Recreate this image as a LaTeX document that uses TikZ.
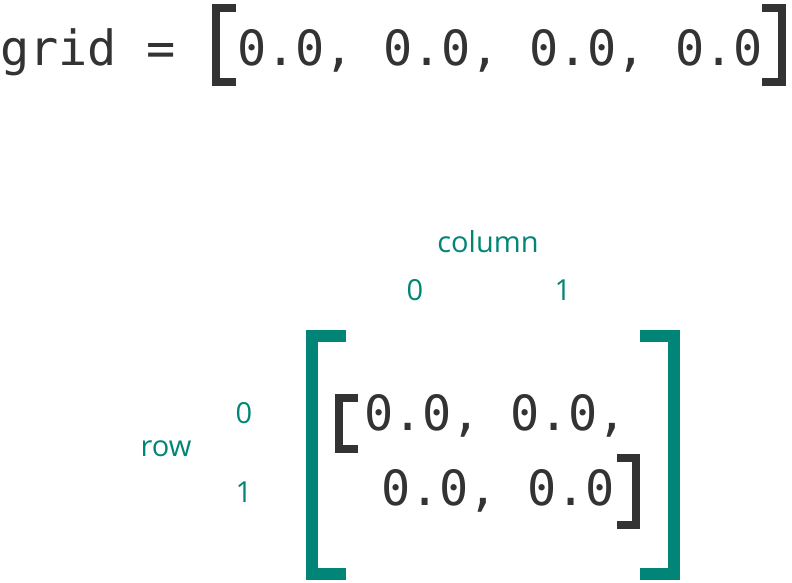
\documentclass[tikz,border=0pt]{standalone}
\usepackage{fontspec}
\setmainfont{Open Sans}
\newfontfamily\codefont{DejaVu Sans Mono}
\definecolor{teal1}{RGB}{0,133,119}
\definecolor{dark}{RGB}{51,51,51}
\begin{document}
\begin{tikzpicture}[x=1pt,y=-1pt,
  code/.style={font=\codefont\fontsize{48.5}{50}\selectfont,text=dark,anchor=base west,inner sep=0pt},
  lab/.style={font=\fontsize{29}{32}\selectfont,text=teal1,inner sep=0pt},
  dbr/.style={draw=dark,line width=8pt},
  tbr/.style={draw=teal1,line width=12pt}]
\useasboundingbox (0,0) rectangle (792,582);
\node[code] (g) at (0,65) {grid =};
\node[code] (v) at (237,65) {0.0, 0.0, 0.0, 0.0};
\draw[dbr] (236,8) -- (216,8) -- (216,82) -- (236,82);
\draw[dbr] (762,8) -- (782,8) -- (782,82) -- (762,82);
\node[lab] (col) at (488,242) {column};
\node[lab] (c0) at (415,290) {0};
\node[lab] (c1) at (563,290) {1};
\node[lab] (r0) at (244,413) {0};
\node[lab] (r1) at (244,492) {1};
\node[lab] (row) at (166,449) {row};
\draw[tbr] (346,336) -- (312,336) -- (312,574) -- (346,574);
\draw[tbr] (640,336) -- (674,336) -- (674,574) -- (640,574);
\draw[dbr] (358,398) -- (339,398) -- (339,449) -- (358,449);
\draw[dbr] (617,458) -- (636,458) -- (636,525) -- (617,525);
\node[code] (l1) at (364,430) {0.0, 0.0,};
\node[code] (l2) at (381,505) {0.0, 0.0};
\end{tikzpicture}
\end{document}
